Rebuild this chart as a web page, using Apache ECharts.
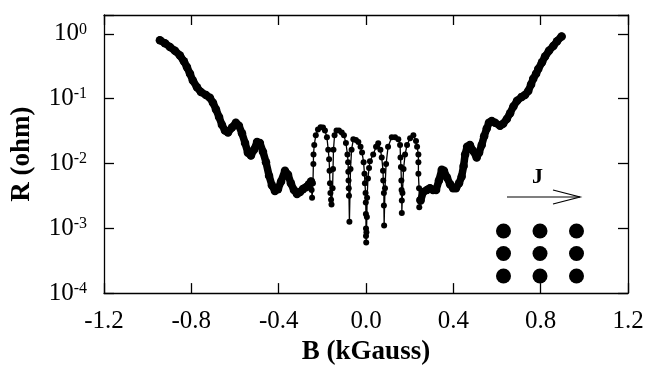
<!DOCTYPE html>
<html>
<head>
<meta charset="utf-8">
<script src="https://cdn.jsdelivr.net/npm/echarts@6/dist/echarts.min.js"></script>
<style>
  html, body { margin: 0; padding: 0; background: #fff; }
  #chart { width: 647px; height: 371px; }
</style>
</head>
<body>
<div id="chart"></div>
<script>
// field B (kGauss) and log10 of R (ohm), in three stretches
const leftB = [-0.944,-0.921,-0.898,-0.875,-0.852,-0.834,-0.820,-0.806,-0.793,-0.774,-0.756,-0.733,-0.715,-0.701,-0.687,-0.673,-0.660,-0.646,-0.632,-0.614,-0.596,-0.582,-0.568,-0.554,-0.541,-0.527,-0.513,-0.499,-0.486,-0.472,-0.458,-0.444,-0.431,-0.417,-0.403,-0.389,-0.371,-0.357,-0.344,-0.330,-0.316,-0.302,-0.289,-0.275,-0.261,-0.252];
const leftLogR = [-0.099,-0.144,-0.203,-0.262,-0.336,-0.425,-0.514,-0.618,-0.721,-0.825,-0.899,-0.944,-0.988,-1.062,-1.166,-1.284,-1.403,-1.492,-1.521,-1.447,-1.373,-1.418,-1.536,-1.684,-1.833,-1.877,-1.788,-1.670,-1.684,-1.818,-1.981,-2.188,-2.336,-2.425,-2.396,-2.277,-2.114,-2.173,-2.307,-2.410,-2.470,-2.440,-2.396,-2.366,-2.321,-2.277];

const centerB = [-0.252,-0.249,-0.247,-0.243,-0.241,-0.2405,-0.237,-0.230,-0.220,-0.208,-0.197,-0.188,-0.179,-0.173,-0.169,-0.167,-0.165,-0.163,-0.160,-0.158,-0.153,-0.151,-0.149,-0.144,-0.135,-0.124,-0.111,-0.101,-0.092,-0.085,-0.082,-0.081,-0.080,-0.079,-0.078,-0.076,-0.071,-0.066,-0.058,-0.046,-0.035,-0.025,-0.018,-0.011,-0.007,-0.005,-0.002,-0.001,-0.0005,0.000,0.000,0.001,0.002,0.004,0.005,0.009,0.014,0.018,0.033,0.046,0.056,0.066,0.072,0.078,0.079,0.082,0.082,0.083,0.087,0.092,0.101,0.118,0.133,0.148,0.156,0.158,0.160,0.162,0.163,0.164,0.164,0.167,0.172,0.179,0.188,0.202,0.217,0.229,0.234,0.240,0.240,0.240,0.243,0.244,0.244,0.250,0.262];
const centerLogR = [-2.277,-2.410,-2.529,-2.307,-2.010,-1.862,-1.714,-1.566,-1.477,-1.440,-1.447,-1.492,-1.596,-1.788,-1.936,-2.114,-2.307,-2.455,-2.559,-2.633,-2.381,-2.084,-1.788,-1.566,-1.492,-1.492,-1.521,-1.566,-1.684,-1.862,-1.981,-2.129,-2.262,-2.381,-2.499,-2.899,-2.084,-1.788,-1.625,-1.640,-1.670,-1.744,-1.833,-1.981,-2.159,-2.307,-2.455,-2.603,-2.781,-3.003,-3.121,-3.221,-3.062,-2.825,-2.529,-2.233,-2.070,-1.966,-1.862,-1.744,-1.689,-1.788,-1.907,-2.114,-2.262,-2.455,-2.647,-2.959,-2.381,-2.010,-1.744,-1.596,-1.596,-1.625,-1.714,-1.907,-2.055,-2.262,-2.410,-2.573,-2.766,-2.455,-2.084,-1.862,-1.714,-1.610,-1.566,-1.655,-1.744,-1.862,-1.981,-2.159,-2.381,-2.559,-2.677,-2.573,-2.440];

const rightB = [0.250,0.262,0.279,0.293,0.307,0.321,0.334,0.347,0.357,0.371,0.385,0.399,0.412,0.426,0.438,0.447,0.454,0.463,0.476,0.490,0.507,0.518,0.530,0.541,0.553,0.563,0.576,0.591,0.614,0.628,0.645,0.660,0.675,0.692,0.713,0.728,0.743,0.756,0.766,0.779,0.789,0.806,0.820,0.838,0.858,0.875,0.896];
const rightLogR = [-2.573,-2.440,-2.410,-2.381,-2.410,-2.410,-2.262,-2.099,-2.114,-2.218,-2.321,-2.381,-2.381,-2.307,-2.203,-2.040,-1.862,-1.744,-1.714,-1.803,-1.907,-1.833,-1.714,-1.581,-1.462,-1.373,-1.344,-1.373,-1.418,-1.388,-1.314,-1.225,-1.121,-1.033,-0.973,-0.944,-0.884,-0.781,-0.692,-0.618,-0.544,-0.440,-0.351,-0.262,-0.188,-0.114,-0.040];

const xTicks = [-1.2, -0.8, -0.4, 0.0, 0.4, 0.8, 1.2];
const yDecades = [-4, -3, -2, -1, 0];

const toPairs = (bs, logs) => bs.map((b, i) => [b, Math.pow(10, logs[i])]);

const FONT = 'Liberation Serif';

const chart = echarts.init(document.getElementById('chart'));

const lineOf = (name, data, thick) => ({
  name,
  type: 'line',
  data,
  symbol: 'circle',
  symbolSize: thick ? 8.5 : 6,
  showSymbol: true,
  animation: false,
  itemStyle: { color: '#000' },
  lineStyle: { color: '#000', width: thick ? 7.5 : 1.3, cap: 'round', join: 'round' },
  z: 3
});

const decadeLabel = (v) => {
  const e = Math.log10(v);
  const n = Math.round(e);
  if (Math.abs(e - n) > 1e-6 || yDecades.indexOf(n) < 0) return '';
  return '{b|10}{s|' + n + '}';
};

const frameLine = { show: true, onZero: false, lineStyle: { color: '#000', width: 1.3 } };
const inTick = { show: true, inside: true, length: 10, lineStyle: { color: '#000', width: 1.3 } };

const dots = [];
[503.5, 540, 576.5].forEach(x => {
  [231, 253.5, 276].forEach(y => {
    dots.push({ type: 'circle', shape: { cx: x, cy: y, r: 7.5 }, style: { fill: '#000' } });
  });
});

chart.setOption({
  backgroundColor: '#fff',
  animation: false,
  grid: { left: 104, right: 19, top: 15, bottom: 67 },
  xAxis: [{
    type: 'value',
    min: xTicks[0],
    max: xTicks[xTicks.length - 1],
    interval: 0.4,
    name: 'B (kGauss)',
    nameLocation: 'middle',
    nameGap: 45,
    nameTextStyle: { fontFamily: FONT, fontWeight: 'bold', fontSize: 27, color: '#000' },
    axisLine: frameLine,
    axisTick: inTick,
    axisLabel: { fontFamily: FONT, fontSize: 25, color: '#000', margin: 16, formatter: v => v.toFixed(1) },
    splitLine: { show: false }
  }, {
    type: 'value',
    position: 'top',
    min: xTicks[0],
    max: xTicks[xTicks.length - 1],
    interval: 0.4,
    axisLine: frameLine,
    axisTick: inTick,
    axisLabel: { show: false },
    splitLine: { show: false }
  }],
  yAxis: [{
    type: 'log',
    min: 1e-4,
    max: 1.95,
    name: 'R (ohm)',
    nameLocation: 'middle',
    nameGap: 68,
    nameRotate: 90,
    nameTextStyle: { fontFamily: FONT, fontWeight: 'bold', fontSize: 27, color: '#000' },
    axisLine: frameLine,
    axisTick: inTick,
    axisLabel: {
      margin: 17,
      formatter: decadeLabel,
      rich: {
        b: { fontFamily: FONT, fontSize: 25, color: '#000' },
        s: { fontFamily: FONT, fontSize: 16, color: '#000', verticalAlign: 'top' }
      }
    },
    splitLine: { show: false }
  }, {
    type: 'log',
    position: 'right',
    min: 1e-4,
    max: 1.95,
    axisLine: frameLine,
    axisTick: inTick,
    axisLabel: { show: false },
    splitLine: { show: false }
  }],
  series: [
    lineOf('left', toPairs(leftB, leftLogR), true),
    lineOf('center', toPairs(centerB, centerLogR), false),
    lineOf('right', toPairs(rightB, rightLogR), true)
  ],
  graphic: [
    { type: 'text', left: 532, top: 166, style: { text: 'J', font: 'bold 22px "Liberation Serif"', fill: '#000' } },
    { type: 'line', shape: { x1: 507, y1: 197, x2: 580, y2: 197 }, style: { stroke: '#000', lineWidth: 1.2 } },
    { type: 'polyline', shape: { points: [[553, 190], [580, 197], [553, 204]] }, style: { stroke: '#000', lineWidth: 1.2, fill: null } }
  ].concat(dots)
});
</script>
</body>
</html>
